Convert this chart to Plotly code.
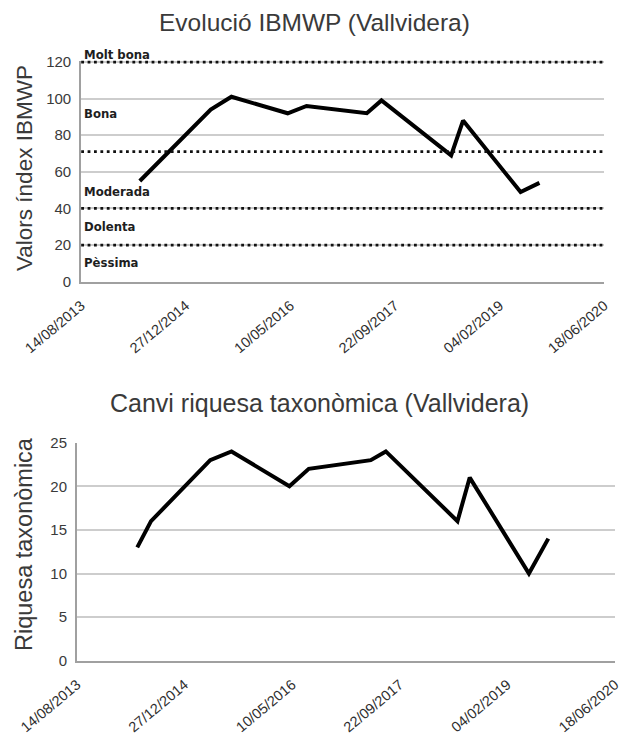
import plotly.graph_objects as go

# ---- data ----
sample_dates = ["2014-05-21", "2014-07-24", "2015-04-25", "2015-08-02", "2016-04-27",
                "2016-07-26", "2017-05-10", "2017-07-19", "2018-06-17", "2018-08-13",
                "2019-05-15", "2019-08-13"]
ibmwp_values = [55, None, 94, 101, 92, 96, 92, 99, 69, 88, 49, 54]
riquesa_values = [13, 16, 23, 24, 20, 22, 23, 24, 16, 21, 10, 14]

class_thresholds = [120, 71, 40, 20]
class_names = ["Molt bona", "Bona", "Moderada", "Dolenta", "Pèssima"]
class_label_px = [54, 113.3, 191.7, 226.7, 262.3]   # label positions (page pixels)

tick_dates = ["2013-08-14", "2014-12-27", "2016-05-10", "2017-09-22", "2019-02-04", "2020-06-18"]
tick_labels = ["14/08/2013", "27/12/2014", "10/05/2016", "22/09/2017", "04/02/2019", "18/06/2020"]

title_top = "Evolució IBMWP (Vallvidera)"
title_bottom = "Canvi riquesa taxonòmica (Vallvidera)"
ytitle_top = "Valors índex IBMWP"
ytitle_bottom = "Riquesa taxonòmica"

# ---- figure ----
W, H = 627, 740
OFF = 8  # default page body margin


def px(p):
    return (p - OFF) / W


def py(p):
    return 1 - (p - OFF) / H


FONT = "Liberation Sans, Arial, sans-serif"
TXT = "#3a3a3a"
GRID = "#cdcdcd"
AXIS = "#a0a0a0"

fig = go.Figure()
fig.add_trace(go.Scatter(x=sample_dates, y=ibmwp_values, mode="lines", connectgaps=True,
                         line=dict(color="black", width=4), xaxis="x", yaxis="y",
                         showlegend=False, hoverinfo="x+y"))
fig.add_trace(go.Scatter(x=sample_dates, y=riquesa_values, mode="lines",
                         line=dict(color="black", width=4), xaxis="x2", yaxis="y2",
                         showlegend=False, hoverinfo="x+y"))

for t in class_thresholds:
    fig.add_shape(type="line", xref="x domain", yref="y", x0=0, x1=1, y0=t, y1=t,
                  line=dict(color="#111111", width=2.8, dash="2.8px,3.6px"), layer="above")

annotations = []
for name, yp in zip(class_names, class_label_px):
    annotations.append(dict(text=name, xref="paper", yref="paper", x=px(82), y=py(yp),
                            xanchor="left", yanchor="middle", showarrow=False,
                            font=dict(family="DejaVu Sans Condensed, DejaVu Sans", size=13,
                                      color="#1e1e1e", weight="bold")))

annotations += [
    dict(text=title_top, xref="paper", yref="paper", x=px(314), y=py(22),
         xanchor="center", yanchor="middle", showarrow=False,
         font=dict(family=FONT, size=24.5, color=TXT)),
    dict(text=title_bottom, xref="paper", yref="paper", x=px(319), y=py(403),
         xanchor="center", yanchor="middle", showarrow=False,
         font=dict(family=FONT, size=25, color=TXT)),
    dict(text=ytitle_top, xref="paper", yref="paper", x=px(24), y=py(168),
         xanchor="center", yanchor="middle", showarrow=False, textangle=-90,
         font=dict(family=FONT, size=22.5, color=TXT)),
    dict(text=ytitle_bottom, xref="paper", yref="paper", x=px(24), y=py(544),
         xanchor="center", yanchor="middle", showarrow=False, textangle=-90,
         font=dict(family=FONT, size=23.5, color=TXT)),
]

xcommon = dict(type="date", range=[tick_dates[0], tick_dates[-1]], tickmode="array",
               tickvals=tick_dates, ticktext=tick_labels, tickangle=-40,
               showgrid=False, zeroline=False, showline=True, linecolor=AXIS, linewidth=2,
               ticks="", ticklabelstandoff=8,
               tickfont=dict(family=FONT, size=14.5, color="#2e2e2e"), automargin=False,
               fixedrange=True)
ycommon = dict(showgrid=True, gridcolor=GRID, gridwidth=2, zeroline=False, showline=True,
               linecolor=AXIS, linewidth=2, ticks="", ticklabelstandoff=5,
               tickfont=dict(family=FONT, size=15, color=TXT),
               automargin=False, fixedrange=True)

# top plot: 120 at page y=62, 0 at y=281.7 ; range slightly above 120 so the dotted top line is not clipped
top_max = 120.8
ppu = (281.7 - 62) / 120
fig.update_layout(
    width=W, height=H,
    margin=dict(l=0, r=0, t=0, b=0),
    paper_bgcolor="white", plot_bgcolor="white",
    xaxis=dict(xcommon, domain=[px(81.2), px(604.3)], anchor="y"),
    yaxis=dict(ycommon, domain=[py(281.7), py(62 - (top_max - 120) * ppu)],
               range=[0, top_max], tickvals=[0, 20, 40, 60, 80, 100, 120], anchor="x"),
    xaxis2=dict(xcommon, domain=[px(77), px(615)], anchor="y2"),
    yaxis2=dict(ycommon, domain=[py(660.7), py(442.7)], range=[0, 25], dtick=5, anchor="x2"),
    annotations=annotations,
    showlegend=False,
)

fig.write_html("out.html")
